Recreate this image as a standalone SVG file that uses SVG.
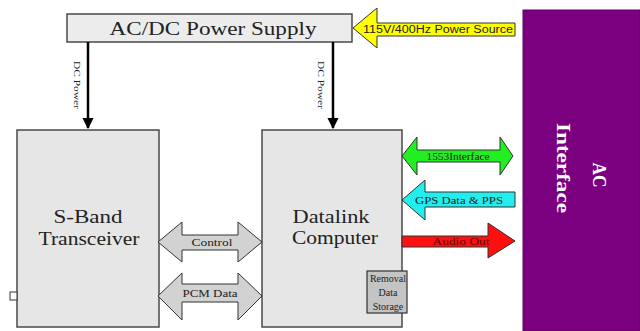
<svg xmlns="http://www.w3.org/2000/svg" width="640" height="331" viewBox="0 0 640 331">
<defs>
<style>
.box{fill:#e6e6e6;stroke:#4a4a4a;stroke-width:1.5}
.t{font-family:"Liberation Serif","Times New Roman",serif;fill:#222;text-anchor:middle}
.big{font-size:18px}
.sm{font-size:9px}
.lab{font-size:10px}
.wire{stroke:#000;stroke-width:2.5;fill:none}
.garr{fill:#d2d2d2;stroke:#333;stroke-width:1}
</style>
<marker id="ah" viewBox="0 0 10 10" refX="9" refY="5" markerWidth="4.5" markerHeight="5" orient="auto" markerUnits="strokeWidth">
<path d="M0,0 L10,5 L0,10 z" fill="#000"/>
</marker>
</defs>
<rect x="0" y="0" width="640" height="331" fill="#fff"/>

<g id="ac-interface">
<rect x="523" y="10" width="117" height="321" fill="#7a0080" stroke="#5e0066" stroke-width="1"/>
<text class="t" transform="translate(597,175) rotate(90)" style="fill:#fff;font-size:18px;font-weight:bold" dominant-baseline="middle" textLength="25" lengthAdjust="spacingAndGlyphs">AC</text>
<text class="t" transform="translate(561,168) rotate(90)" style="fill:#fff;font-size:18px;font-weight:bold" dominant-baseline="middle" textLength="90" lengthAdjust="spacingAndGlyphs">Interface</text>
</g>

<g id="power-supply">
<rect class="box" x="67" y="14" width="285" height="28" style="fill:#ececec"/>
<text class="t big" x="213" y="35" textLength="207" lengthAdjust="spacingAndGlyphs">AC/DC Power Supply</text>
</g>

<g id="sband">
<rect class="box" x="17" y="130" width="142" height="197"/>
<text class="t big" x="88" y="223" style="font-size:19px" textLength="69" lengthAdjust="spacingAndGlyphs">S-Band</text>
<text class="t big" x="89" y="245" style="font-size:19px" textLength="101" lengthAdjust="spacingAndGlyphs">Transceiver</text>
<rect x="10" y="292" width="7" height="8" fill="#fff" stroke="#333" stroke-width="1"/>
</g>

<g id="datalink">
<rect class="box" x="262" y="130" width="140" height="197"/>
<text class="t big" x="331" y="223" style="font-size:19px" textLength="77" lengthAdjust="spacingAndGlyphs">Datalink</text>
<text class="t big" x="335" y="244" style="font-size:19px" textLength="86" lengthAdjust="spacingAndGlyphs">Computer</text>
</g>

<g id="storage">
<rect x="367" y="271" width="40" height="42" fill="#c4c4c4" stroke="#333" stroke-width="1.2"/>
<text class="t" x="388" y="282" style="font-size:10px">Removal</text>
<text class="t" x="388" y="296" style="font-size:10px">Data</text>
<text class="t" x="388" y="310" style="font-size:10px">Storage</text>
</g>

<g id="connectors">
<line class="wire" x1="88" y1="42" x2="88" y2="128" marker-end="url(#ah)"/>
<text class="t sm" transform="translate(76,85) rotate(90)" dominant-baseline="middle" textLength="48" lengthAdjust="spacingAndGlyphs">DC Power</text>
<line class="wire" x1="333" y1="42" x2="333" y2="128" marker-end="url(#ah)"/>
<text class="t sm" transform="translate(320,85) rotate(90)" dominant-baseline="middle" textLength="48" lengthAdjust="spacingAndGlyphs">DC Power</text>

<g id="power-source">
<path d="M353,28 L377,8 L377,23 L515,23 L515,36 L377,36 L377,48 z" fill="#ffff00" stroke="#333" stroke-width="1"/>
<text class="t" x="438" y="33" style="font-family:'Liberation Sans',Arial,sans-serif;font-size:10px" textLength="150" lengthAdjust="spacingAndGlyphs">115V/400Hz Power Source</text>
</g>

<g id="bus-1553">
<path d="M402,156 L417,137 L417,150 L500,150 L500,137 L513,156 L500,175 L500,162 L417,162 L417,175 z" fill="#22ee22" stroke="#333" stroke-width="1"/>
<text class="t lab" x="458" y="160" textLength="63" lengthAdjust="spacingAndGlyphs">1553Interface</text>
</g>

<g id="gps">
<path d="M402,200 L425,180 L425,192 L515,192 L515,207 L425,207 L425,220 z" fill="#22eeee" stroke="#333" stroke-width="1"/>
<text class="t lab" x="459" y="203.5" textLength="88" lengthAdjust="spacingAndGlyphs">GPS Data &amp; PPS</text>
</g>

<g id="audio">
<path d="M402,236 L488,236 L488,223 L515,241 L488,258 L488,247 L402,247 z" fill="#ff1010" stroke="#333" stroke-width="1"/>
<text class="t lab" x="461" y="245" style="fill:#600" textLength="57" lengthAdjust="spacingAndGlyphs">Audio Out</text>
</g>

<g id="control">
<path class="garr" d="M158,242 L182,222 L182,235 L238,235 L238,222 L262,242 L238,262 L238,250 L182,250 L182,262 z"/>
<text class="t lab" x="212" y="245.5" textLength="41" lengthAdjust="spacingAndGlyphs">Control</text>
</g>

<g id="pcm">
<path class="garr" d="M158,296 L182,273 L182,284 L238,284 L238,273 L262,296 L238,320 L238,302 L182,302 L182,320 z"/>
<text class="t lab" x="210" y="296.5" textLength="55" lengthAdjust="spacingAndGlyphs">PCM Data</text>
</g>
</g>
</svg>
